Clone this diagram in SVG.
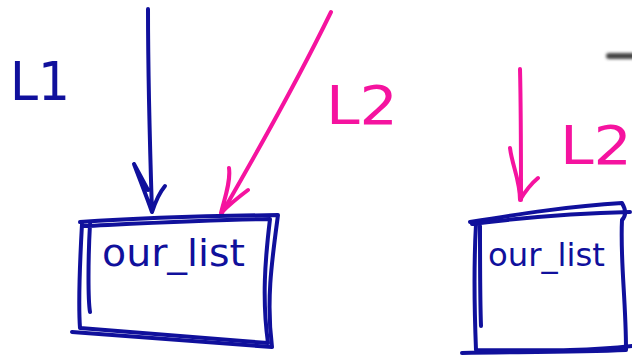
<svg xmlns="http://www.w3.org/2000/svg" width="632" height="362" viewBox="0 0 632 362">
<defs>
<style>
.b{fill:none;stroke:#10109c;stroke-width:4;stroke-linecap:round;stroke-linejoin:round}
.p{fill:none;stroke:#f5139f;stroke-width:4;stroke-linecap:round;stroke-linejoin:round}
.tb{fill:#10109c;font-family:"DejaVu Sans","Liberation Sans",sans-serif}
.tp{fill:#f5139f;font-family:"DejaVu Sans","Liberation Sans",sans-serif}
</style>
<filter id="blur" x="-50%" y="-200%" width="200%" height="500%"><feGaussianBlur stdDeviation="1.8"/></filter>
</defs>
<rect width="632" height="362" fill="#ffffff"/>
<rect x="606" y="53" width="30" height="6" rx="3" fill="#444" filter="url(#blur)"/>
<g id="connectors">
<path class="b" d="M148,9 C148,80 150,150 152,212 M134,164 C140,180 146,195 152,212 C156,200 160,192 165,186 M134,164 L148,190"/>
<path class="p" d="M331,12 Q292,92 222,213 M229,168 C231,182 224,200 221,213 C232,202 240,196 248,190"/>
<path class="p" d="M520,69 C521,110 521,160 521,200 M510,148 C512,165 520,180 520,200 C526,190 532,183 538,178"/>
</g>
<g id="label-L1"><text class="tb" x="10" y="100" font-size="54" textLength="60" lengthAdjust="spacingAndGlyphs">L1</text></g>
<g id="label-L2a"><text class="tp" x="326" y="124" font-size="54" textLength="72" lengthAdjust="spacingAndGlyphs">L2</text></g>
<g id="label-L2b"><text class="tp" x="560" y="164" font-size="54" textLength="72" lengthAdjust="spacingAndGlyphs">L2</text></g>
<g id="node-left">
<path class="b" d="M80,222 C140,218 210,216 278,215 C272,260 266,300 272,347 C200,342 130,336 72,332"/>
<path class="b" d="M84,226 C150,223 210,220 270,219 C265,260 262,300 268,343 C200,338 130,332 80,328 C78,300 80,260 82,224 M90,224 C88,260 88,300 90,312"/>
<text class="tb" x="102" y="266" font-size="38" textLength="143" lengthAdjust="spacingAndGlyphs">our_list</text>
</g>
<g id="node-right">
<path class="b" d="M470,222 C520,214 570,206 622,203 C626,210 626,216 622,220 C620,260 626,300 626,350 C580,352 520,352 462,353"/>
<path class="b" d="M472,224 C520,218 580,213 630,212 M476,224 C474,260 474,300 476,350 C530,350 580,352 632,346 M480,226 C480,260 480,300 481,326"/>
<text class="tb" x="488" y="266" font-size="32" textLength="117" lengthAdjust="spacingAndGlyphs">our_list</text>
</g>
</svg>
